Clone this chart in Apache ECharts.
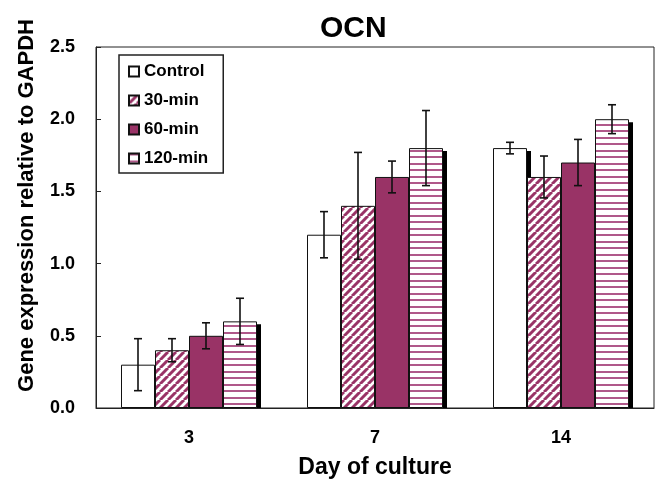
<!DOCTYPE html>
<html>
<head>
<meta charset="utf-8">
<script src="https://cdn.jsdelivr.net/npm/echarts@6/dist/echarts.min.js"></script>
<style>html,body{margin:0;padding:0;background:#fff;}#c{width:660px;height:487px;}</style>
</head>
<body>
<div id="c"></div>
<script>
// ---- data ----
var categories = ['3', '7', '14'];
var seriesNames = ['Control', '30-min', '60-min', '120-min'];
var controlVals = [0.30, 1.20, 1.80];
var controlErr  = [0.18, 0.16, 0.04];
var min30Vals   = [0.40, 1.40, 1.60];
var min30Err    = [0.08, 0.37, 0.145];
var min60Vals   = [0.50, 1.60, 1.70];
var min60Err    = [0.09, 0.11, 0.16];
var min120Vals  = [0.60, 1.80, 2.00];
var min120Err   = [0.16, 0.26, 0.10];
var yTicks = [0, 0.5, 1.0, 1.5, 2.0, 2.5];

var allVals = [controlVals, min30Vals, min60Vals, min120Vals];
var allErr = [controlErr, min30Err, min60Err, min120Err];

// ---- patterns ----
var PURPLE = '#993366';
function diagPattern() {
  var c = document.createElement('canvas'); c.width = 8; c.height = 8;
  var g = c.getContext('2d');
  g.fillStyle = '#fff'; g.fillRect(0, 0, 8, 8);
  g.strokeStyle = PURPLE; g.lineWidth = 3;
  [-8, 0, 8].forEach(function (o) { g.beginPath(); g.moveTo(o, 8); g.lineTo(o + 8, 0); g.stroke(); });
  return c;
}
function horizPattern() {
  var c = document.createElement('canvas'); c.width = 4; c.height = 13;
  var g = c.getContext('2d');
  g.fillStyle = '#fff'; g.fillRect(0, 0, 4, 13);
  g.fillStyle = '#b0588a';
  g.fillRect(0, 0, 4, 2); g.fillRect(0, 7, 4, 2);
  return c;
}
var fills = ['#ffffff', {image: diagPattern(), repeat: 'repeat'}, PURPLE, {image: horizPattern(), repeat: 'repeat'}];

var BAR_W = 34;
var FONT = "'Liberation Sans', Arial, sans-serif";

var series = [];
// shadows
allVals.forEach(function (vals, si) {
  series.push({
    type: 'custom', name: 'shadow' + si, z: 1, silent: true,
    data: vals.map(function (v, i) { return [i, v]; }),
    renderItem: function (params, api) {
      var top = api.coord([api.value(0), api.value(1)]);
      var base = api.coord([api.value(0), 0]);
      var x = top[0] + (si - 1.5) * BAR_W - BAR_W / 2 + 4;
      return {type: 'rect', shape: {x: x, y: top[1] + 3, width: BAR_W, height: base[1] - top[1] - 3},
        style: {fill: '#000'}};
    }
  });
});
// bars
allVals.forEach(function (vals, si) {
  series.push({
    type: 'bar', name: seriesNames[si], data: vals, barWidth: BAR_W, barGap: '0%', z: 2,
    itemStyle: {color: fills[si], borderColor: '#111', borderWidth: 1}
  });
});
// error bars
allVals.forEach(function (vals, si) {
  series.push({
    type: 'custom', name: 'err' + si, z: 5, silent: true,
    data: vals.map(function (v, i) { return [i, v, allErr[si][i]]; }),
    renderItem: function (params, api) {
      var idx = api.value(0), v = api.value(1), e = api.value(2);
      var hi = api.coord([idx, v + e]), lo = api.coord([idx, v - e]);
      var x = hi[0] + (si - 1.5) * BAR_W;
      var st = {stroke: '#111', lineWidth: 1.6};
      return {type: 'group', children: [
        {type: 'line', shape: {x1: x, y1: hi[1], x2: x, y2: lo[1]}, style: st},
        {type: 'line', shape: {x1: x - 4, y1: hi[1], x2: x + 4, y2: hi[1]}, style: st},
        {type: 'line', shape: {x1: x - 4, y1: lo[1], x2: x + 4, y2: lo[1]}, style: st}
      ]};
    }
  });
});

var chart = echarts.init(document.getElementById('c'), null, {renderer: 'canvas'});
chart.setOption({
  animation: false,
  backgroundColor: '#fff',
  title: {text: 'OCN', left: 315, top: 9,
    textStyle: {fontFamily: FONT, fontWeight: 'bold', fontSize: 30, color: '#000'}},
  legend: {
    data: seriesNames, orient: 'vertical', left: 119, top: 55,
    padding: [8, 15, 6, 9], itemGap: 12, itemWidth: 10, itemHeight: 10, icon: 'rect',
    borderColor: '#222', borderWidth: 1.5,
    textStyle: {fontFamily: FONT, fontWeight: 'bold', fontSize: 17, color: '#000'}
  },
  grid: {left: 96, right: 6, top: 47, bottom: 79, show: true, borderColor: '#222', borderWidth: 1, backgroundColor: 'transparent'},
  xAxis: {
    type: 'category', data: categories,
    name: 'Day of culture', nameLocation: 'middle', nameGap: 48,
    nameTextStyle: {fontFamily: FONT, fontWeight: 'bold', fontSize: 23, color: '#000'},
    axisLine: {lineStyle: {color: '#222', width: 1}},
    axisTick: {inside: true, length: 5, lineStyle: {color: '#222'}},
    axisLabel: {margin: 21, fontFamily: FONT, fontWeight: 'bold', fontSize: 18, color: '#000'}
  },
  yAxis: {
    type: 'value', min: yTicks[0], max: yTicks[yTicks.length - 1], interval: 0.5,
    name: 'Gene expression relative to GAPDH', nameLocation: 'middle', nameGap: 58,
    nameTextStyle: {fontFamily: FONT, fontWeight: 'bold', fontSize: 22, color: '#000', padding: [0, 0, 0, 44]},
    axisLine: {show: true, lineStyle: {color: '#222', width: 1}},
    axisTick: {show: true, inside: true, length: 5, lineStyle: {color: '#222'}},
    splitLine: {show: false},
    axisLabel: {margin: 21, fontFamily: FONT, fontWeight: 'bold', fontSize: 18, color: '#000',
      formatter: function (v) { return v.toFixed(1); }}
  },
  series: series
});
</script>
</body>
</html>
